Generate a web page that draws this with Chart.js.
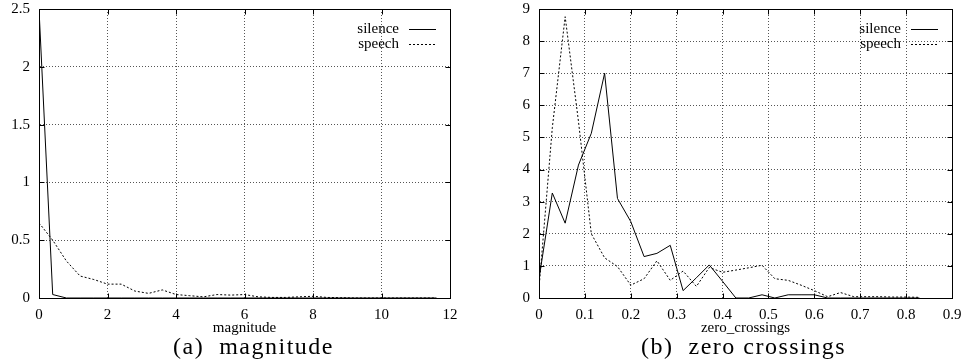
<!DOCTYPE html>
<html lang="en">
<head>
<meta charset="UTF-8">
<title>magnitude / zero crossings</title>
<script src="https://cdn.jsdelivr.net/npm/chart.js"></script>
<style>
  body { margin: 0; background: #fff; }
  #wrap { position: relative; width: 963px; height: 364px; }
  canvas { position: absolute; top: 0; }
  .cap { position: absolute; top: 333px; font-family: "Liberation Serif", serif; font-size: 24px; letter-spacing: 1.5px; color: #000; white-space: pre; }
</style>
</head>
<body>
<div id="wrap">
  <canvas id="magChart" width="481" height="364" style="left:0"></canvas>
  <canvas id="zcChart" width="482" height="364" style="left:481px"></canvas>
  <div class="cap" id="capA" style="left:173px">(a)  magnitude</div>
  <div class="cap" id="capB" style="left:641px">(b)  zero crossings</div>
</div>
<script>
// magnitude histogram (bin positions and values)
const magBins = [0, 0.4, 0.8, 1.2, 1.6, 2.0, 2.4, 2.8, 3.2, 3.6, 4.0, 4.4, 4.8, 5.2, 5.6, 6.0, 6.4, 6.8, 7.2, 7.6, 8.0, 8.4, 8.8, 9.2, 9.6, 10.0, 10.4, 10.8, 11.2, 11.6];
const magSilence = [2.5, 0.03, 0, 0, 0, 0, 0, 0, 0, 0, 0, 0, 0, 0, 0, 0, 0, 0, 0, 0, 0, 0, 0, 0, 0, 0, 0, 0, 0, 0];
const magSpeech = [0.65, 0.5, 0.32, 0.19, 0.16, 0.12, 0.12, 0.06, 0.04, 0.07, 0.03, 0.02, 0.01, 0.03, 0.025, 0.03, 0.01, 0.005, 0.005, 0.01, 0.015, 0.005, 0.003, 0, 0, 0, 0, 0, 0, 0];

// zero crossings histogram
const zcBins = [0, 0.029, 0.057, 0.086, 0.114, 0.143, 0.171, 0.2, 0.229, 0.257, 0.286, 0.314, 0.343, 0.371, 0.4, 0.429, 0.457, 0.486, 0.514, 0.543, 0.571, 0.6, 0.629, 0.657, 0.686, 0.714, 0.743, 0.771, 0.8, 0.829];
const zcSilence = [0.6, 3.27, 2.33, 4.14, 5.13, 7.0, 3.1, 2.38, 1.29, 1.39, 1.64, 0.23, 0.63, 1.03, 0.52, 0, 0, 0.1, 0, 0.1, 0.1, 0.1, 0, 0, 0, 0, 0, 0, 0, 0];
const zcSpeech = [0.3, 5.3, 8.76, 5.5, 2.0, 1.25, 0.98, 0.4, 0.6, 1.16, 0.55, 0.84, 0.36, 0.95, 0.8, 0.87, 0.94, 1.02, 0.6, 0.55, 0.4, 0.23, 0.04, 0.17, 0.04, 0.04, 0.04, 0.03, 0.03, 0.02];

const seriesNames = ['silence', 'speech'];

const serif = 'Liberation Serif';

function pts(xs, ys) {
  return xs.map((x, i) => ({ x: x, y: ys[i] }));
}

// gnuplot style frame with inward ticks + legend inside the top right corner
const framePlugin = {
  id: 'frame',
  afterDatasetsDraw(chart) {
    const ctx = chart.ctx;
    const a = chart.chartArea;
    const L = Math.round(a.left) + 0.5, R = Math.round(a.right) + 0.5;
    const T = Math.round(a.top) + 0.5, B = Math.round(a.bottom) + 0.5;
    ctx.save();
    ctx.strokeStyle = '#000';
    ctx.lineWidth = 1;
    ctx.setLineDash([]);
    ctx.strokeRect(L, T, R - L, B - T);
    ctx.beginPath();
    chart.scales.x.ticks.forEach(t => {
      const px = Math.round(chart.scales.x.getPixelForValue(t.value)) + 0.5;
      ctx.moveTo(px, B); ctx.lineTo(px, B - 5);
      ctx.moveTo(px, T); ctx.lineTo(px, T + 5);
    });
    chart.scales.y.ticks.forEach(t => {
      const py = Math.round(chart.scales.y.getPixelForValue(t.value)) + 0.5;
      ctx.moveTo(L, py); ctx.lineTo(L + 5, py);
      ctx.moveTo(R, py); ctx.lineTo(R - 5, py);
    });
    ctx.stroke();

    // legend
    ctx.font = '15px "' + serif + '"';
    ctx.fillStyle = '#000';
    ctx.textAlign = 'right';
    ctx.textBaseline = 'middle';
    chart.data.datasets.forEach((ds, i) => {
      const y = Math.round(a.top + 20 + i * 15) + 0.5;
      ctx.fillText(ds.label, a.right - 51, y);
      ctx.beginPath();
      ctx.setLineDash(ds.borderDash || []);
      ctx.moveTo(a.right - 41, y);
      ctx.lineTo(a.right - 14, y);
      ctx.stroke();
    });
    ctx.restore();
  }
};

function makeChart(id, xs, s1, s2, xMax, xStep, yMax, yStep, yWidth, padRight, xTitle) {
  return new Chart(document.getElementById(id), {
    type: 'line',
    data: {
      datasets: [
        { label: seriesNames[0], data: pts(xs, s1), borderColor: '#000', borderWidth: 1, pointRadius: 0, tension: 0, fill: false },
        { label: seriesNames[1], data: pts(xs, s2), borderColor: '#000', borderWidth: 1, borderDash: [2, 2], pointRadius: 0, tension: 0, fill: false }
      ]
    },
    options: {
      responsive: false,
      animation: false,
      events: [],
      layout: { padding: { top: 0, right: padRight, bottom: 23, left: 0 } },
      plugins: { legend: { display: false }, tooltip: { enabled: false } },
      scales: {
        x: {
          type: 'linear',
          min: 0, max: xMax,
          afterFit: s => { s.height = 43; s.paddingLeft = 0; s.paddingRight = 0; },
          grid: { color: '#555', drawTicks: false },
          border: { color: '#000', width: 1, dash: [1, 2] },
          ticks: {
            stepSize: xStep, padding: 8, color: '#000',
            font: { family: serif, size: 15 },
            callback: v => String(Math.round(v * 100) / 100)
          },
          title: { display: true, text: xTitle, color: '#000', font: { family: serif, size: 15 }, padding: { top: 2, bottom: 4 } }
        },
        y: {
          min: 0, max: yMax,
          afterFit: s => { s.width = yWidth; s.paddingTop = 9; s.paddingBottom = 0; },
          grid: { color: '#555', drawTicks: false },
          border: { color: '#000', width: 1, dash: [1, 2] },
          ticks: {
            stepSize: yStep, padding: 9, color: '#000',
            font: { family: serif, size: 15 },
            callback: v => String(Math.round(v * 100) / 100)
          }
        }
      }
    },
    plugins: [framePlugin]
  });
}

makeChart('magChart', magBins, magSilence, magSpeech, 12, 2, 2.5, 0.5, 39, 31, 'magnitude');
makeChart('zcChart', zcBins, zcSilence, zcSpeech, 0.9, 0.1, 9, 1, 58, 11, 'zero_crossings');
</script>
</body>
</html>
